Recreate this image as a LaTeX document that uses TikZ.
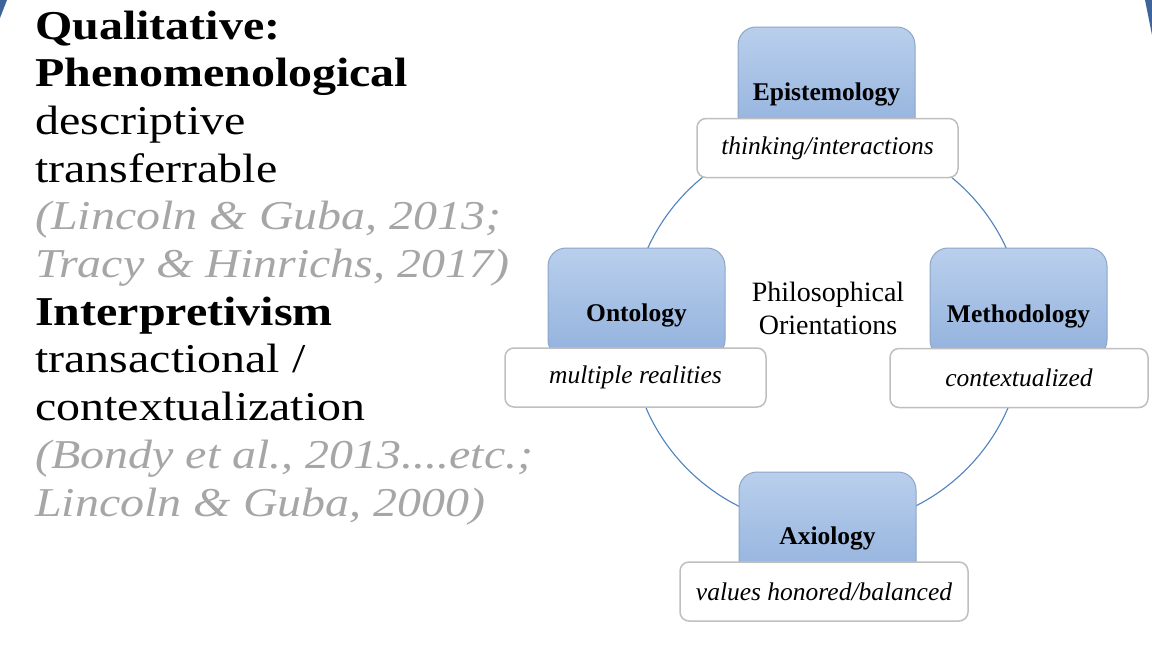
\documentclass[tikz,border=0pt]{standalone}
\usepackage{fontspec}
\newfontfamily\tnr{Liberation Serif}
\definecolor{slideblue}{RGB}{61,101,153}
\definecolor{bluetop}{RGB}{185,207,236}
\definecolor{bluebot}{RGB}{146,177,221}
\definecolor{boxedge}{RGB}{140,165,200}
\definecolor{whiteedge}{RGB}{191,191,191}
\definecolor{cycleline}{RGB}{79,129,189}
\definecolor{citegray}{RGB}{166,166,166}
\newcommand\wide[1]{\scalebox{1.17}[1]{#1}}
\tikzset{
  lefttxt/.style={anchor=base west, inner sep=0pt, font=\tnr\fontsize{41}{47}\selectfont},
  cite/.style={anchor=base west, inner sep=0pt, text=citegray,
    font=\tnr\itshape\fontsize{41}{47}\selectfont},
  bluebox/.style={draw=boxedge, line width=1pt, rounded corners=18pt,
    top color=bluetop, bottom color=bluebot, minimum width=177pt,
    minimum height=110pt, inner sep=0pt},
  whitebox/.style={draw=whiteedge, line width=1.5pt, fill=white,
    rounded corners=9pt, minimum height=59pt, inner sep=0pt},
  boldlbl/.style={inner sep=0pt, font=\tnr\bfseries\fontsize{25.5}{28}\selectfont},
  itlbl/.style={inner sep=0pt, font=\tnr\itshape\fontsize{25.5}{28}\selectfont},
  cyc/.style={circle, draw=cycleline, line width=1.1pt, minimum size=394pt, inner sep=0pt}
}
\begin{document}
\begin{tikzpicture}[x=1pt, y=-1pt]
\useasboundingbox (0,0) rectangle (1152,646);
% slide frame corners
\fill[slideblue] (0,0) -- (7,0) -- (0,18) -- cycle;
\fill[slideblue] (1145,0) -- (1152,0) -- (1152,35) -- cycle;

% left column
\node[lefttxt] (q1) at (35,39) {\wide{\bfseries Qualitative:}};
\node[lefttxt] (q2) at (35,86.7) {\wide{\bfseries Phenomenological}};
\node[lefttxt] (q3) at (35,134.4) {\wide{descriptive}};
\node[lefttxt] (q4) at (35,182.1) {\wide{transferrable}};
\node[cite] (q5) at (35,229.8) {\wide{\itshape (Lincoln \& Guba, 2013;}};
\node[cite] (q6) at (35,277.5) {\wide{\itshape Tracy \& Hinrichs, 2017)}};
\node[lefttxt] (q7) at (35,325.2) {\wide{\bfseries Interpretivism}};
\node[lefttxt] (q8) at (35,372.9) {\wide{transactional /}};
\node[lefttxt] (q9) at (35,420.6) {\wide{contextualization}};
\node[cite] (q10) at (35,468.3) {\wide{\itshape (Bondy et al., 2013....etc.;}};
\node[cite] (q11) at (35,516) {\wide{\itshape Lincoln \& Guba, 2000)}};

% cycle behind the boxes
\node[cyc] (ring) at (827,330) {};

% epistemology
\node[bluebox] (epi) at (826.5,82) {};
\node[boldlbl] (epiL) at (826.5,94) {Epistemology};
\node[whitebox, minimum width=261pt] (epiW) at (827.5,148) {};
\node[itlbl] (epiT) at (epiW.center) {thinking/interactions};

% ontology
\node[bluebox] (ont) at (636.5,303) {};
\node[boldlbl] (ontL) at (636.5,315) {Ontology};
\node[whitebox, minimum width=261pt] (ontW) at (635.5,377.5) {};
\node[itlbl] (ontT) at (ontW.center) {multiple realities};

% methodology
\node[bluebox] (met) at (1018.5,303) {};
\node[boldlbl] (metL) at (1018.5,316) {Methodology};
\node[whitebox, minimum width=258pt] (metW) at (1019,378) {};
\node[itlbl] (metT) at (metW.center) {contextualized};

% axiology
\node[bluebox] (axi) at (827.5,527) {};
\node[boldlbl] (axiL) at (827.5,538) {Axiology};
\node[whitebox, minimum width=288pt] (axiW) at (824,591.5) {};
\node[itlbl] (axiT) at (axiW.center) {values honored/balanced};

% centre title
\node[inner sep=0pt, align=center, font=\tnr\fontsize{28}{33}\selectfont] (ctr) at (828,308) {Philosophical\\Orientations};
\end{tikzpicture}
\end{document}
